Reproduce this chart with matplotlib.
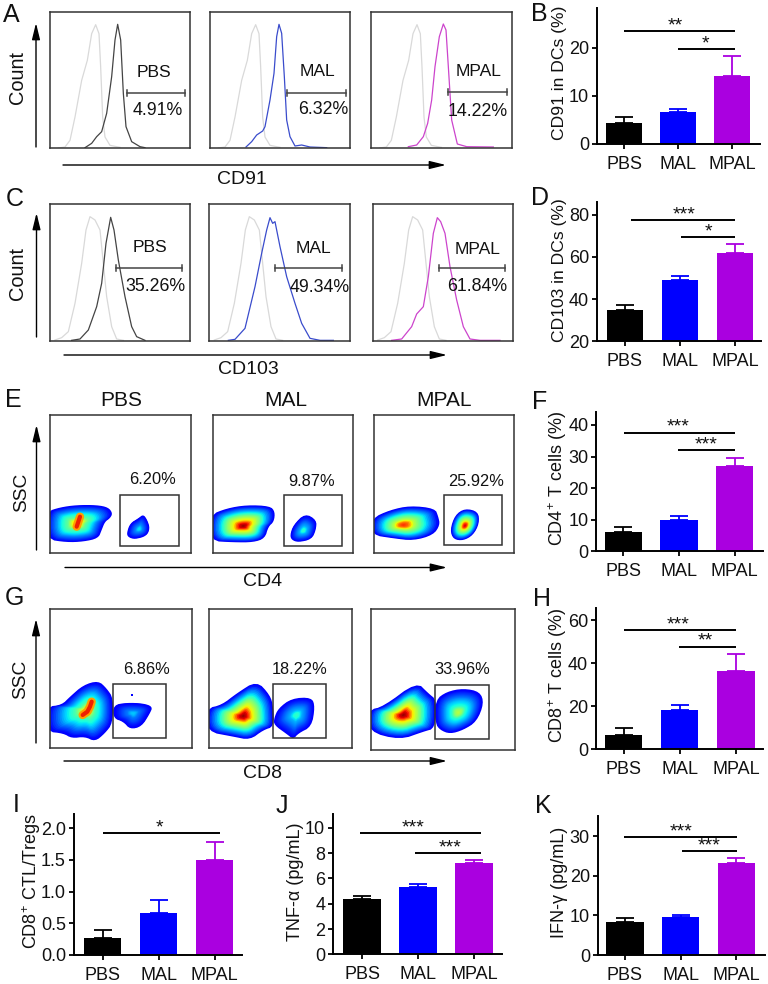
import matplotlib
matplotlib.use('Agg')
import matplotlib.pyplot as plt
import numpy as np
from matplotlib.patches import Rectangle

plt.rcParams['font.family'] = ['Liberation Sans', 'DejaVu Sans']
plt.rcParams['mathtext.default'] = 'regular'

W, H = 768.0, 984.0
groups = ['PBS', 'MAL', 'MPAL']
bar_colors = ['#000000', '#0000ff', '#aa00e0']
gray = '#d9d9d9'
line_colors = ['#444444', '#3a4ccc', '#cc44cc']

# bar panels, values
b_vals = [4.4, 6.7, 14.2]
b_errs = [1.2, 0.6, 4.0]
b_ticks = [0, 10, 20]
b_ticklabels = ['0', '10', '20']
b_brackets = [(0.0, 2.04, 23.5, 0.954, '**'), (1.0, 2.04, 19.7, 1.50, '*')]

d_vals = [35.0, 49.2, 61.8]
d_errs = [2.2, 1.8, 4.2]
d_ticks = [20, 40, 60, 80]
d_ticklabels = ['20', '40', '60', '80']
d_brackets = [(0.1, 2.0, 77.5, 1.07, '***'), (1.02, 2.0, 69.3, 1.515, '*')]

f_vals = [6.0, 9.9, 27.0]
f_errs = [1.6, 1.3, 2.6]
f_ticks = [0, 10, 20, 30, 40]
f_ticklabels = ['0', '10', '20', '30', '40']
f_brackets = [(0.01, 2.01, 37.6, 0.99, '***'), (0.99, 2.01, 32.1, 1.485, '***')]

h_vals = [6.6, 18.1, 36.4]
h_errs = [3.2, 2.5, 7.9]
h_ticks = [0, 20, 40, 60]
h_ticklabels = ['0', '20', '40', '60']
h_brackets = [(0.01, 2.0, 55.3, 0.976, '***'), (0.99, 2.0, 47.8, 1.463, '**')]

i_vals = [0.27, 0.66, 1.50]
i_errs = [0.12, 0.20, 0.29]
i_ticks = [0, 0.5, 1.0, 1.5, 2.0]
i_ticklabels = ['0.0', '0.5', '1.0', '1.5', '2.0']
i_brackets = [(0.01, 2.09, 1.93, 1.006, '*')]

j_vals = [4.35, 5.35, 7.2]
j_errs = [0.29, 0.25, 0.24]
j_ticks = [0, 2, 4, 6, 8, 10]
j_ticklabels = ['0', '2', '4', '6', '8', '10']
j_brackets = [(-0.04, 2.13, 9.6, 0.917, '***'), (0.95, 2.13, 8.02, 1.565, '***')]

k_vals = [8.3, 9.6, 23.2]
k_errs = [1.05, 0.4, 1.3]
k_ticks = [0, 10, 20, 30]
k_ticklabels = ['0', '10', '20', '30']
k_brackets = [(-0.01, 2.02, 29.8, 1.012, '***'), (1.02, 2.02, 26.2, 1.515, '***')]

# histograms: x, y in 1/3 pixel units from the lower left corner of each box
a_gray_x = [25, 45, 60, 75, 95, 112, 125, 137, 147, 152, 158, 165, 180, 210]
a_gray_y = [0, 3, 23, 93, 203, 263, 343, 370, 343, 243, 93, 33, 8, 2]
a_pbs_x = [105, 125, 140, 155, 170, 185, 195, 203, 212, 220, 228, 245, 270, 285]
a_pbs_y = [1, 14, 34, 49, 104, 214, 324, 371, 324, 164, 64, 19, 4, 1]
a_mal_x = [108, 125, 140, 158, 165, 180, 192, 200, 207, 215, 223, 230, 240, 255, 275, 300, 350]
a_mal_y = [3, 19, 39, 51, 64, 144, 224, 334, 371, 344, 214, 84, 34, 6, 9, 3, 1]
a_mpal_x = [111, 136, 156, 169, 181, 191, 204, 216, 224, 231, 241, 258, 286, 366]
a_mpal_y = [4, 9, 34, 74, 144, 244, 334, 372, 354, 244, 84, 12, 4, 3]

c_gray_x = [15, 35, 55, 75, 95, 108, 120, 135, 150, 158, 170, 185, 200, 220]
c_gray_y = [2, 9, 27, 112, 232, 332, 372, 362, 332, 252, 132, 42, 5, 1]
c_pbs_x = [65, 90, 115, 140, 155, 168, 182, 192, 205, 225, 245, 260, 285]
c_pbs_y = [1, 5, 32, 102, 172, 292, 370, 332, 242, 132, 42, 12, 1]
c_mal_x = [57, 77, 107, 137, 157, 172, 182, 190, 197, 212, 232, 257, 277, 302, 332, 372]
c_mal_y = [1, 4, 37, 162, 262, 332, 369, 352, 357, 282, 192, 112, 52, 7, 1, 1]
c_mpal_x = [57, 87, 117, 132, 152, 167, 182, 194, 204, 217, 232, 252, 272, 292, 322, 382]
c_mpal_y = [1, 5, 42, 80, 102, 192, 322, 369, 357, 322, 222, 122, 42, 5, 1, 1]

a_pct = ['4.91%', '6.32%', '14.22%']
c_pct = ['35.26%', '49.34%', '61.84%']
e_pct = ['6.20%', '9.87%', '25.92%']
g_pct = ['6.86%', '18.22%', '33.96%']

# flow plot outlines, 1/3 pixel units of the crops
e_pbs_main = [(140, 395), (180, 382), (230, 375), (290, 375), (325, 382), (338, 400), (330, 415), (315, 425), (305, 450), (295, 475), (250, 485), (200, 487), (140, 478)]
e_pbs_gate = [(380, 460), (390, 430), (415, 415), (430, 403), (442, 420), (450, 445), (440, 468), (405, 478), (385, 472)]
e_mal_main = [(630, 405), (680, 385), (740, 375), (810, 378), (825, 395), (822, 425), (805, 440), (795, 475), (760, 487), (700, 487), (630, 483)]
e_mal_gate = [(870, 465), (880, 435), (915, 400), (950, 420), (948, 450), (935, 478), (895, 487), (875, 480)]
e_mpal_main = [(1115, 415), (1170, 390), (1230, 377), (1305, 385), (1315, 410), (1320, 435), (1300, 465), (1240, 482), (1180, 475), (1115, 465)]
e_mpal_gate = [(1350, 450), (1365, 405), (1395, 385), (1435, 395), (1438, 430), (1420, 465), (1390, 482), (1360, 478)]

g_pbs_main = [(140, 350), (185, 345), (210, 320), (250, 285), (295, 272), (320, 295), (340, 325), (338, 400), (315, 430), (285, 455), (255, 440), (215, 445), (190, 430), (140, 425)]
g_pbs_gate = [(340, 345), (380, 338), (430, 340), (458, 350), (450, 370), (425, 410), (390, 418), (370, 395), (340, 385)]
g_mal_main = [(620, 355), (665, 345), (710, 310), (770, 272), (810, 315), (820, 350), (822, 410), (790, 420), (750, 450), (700, 440), (620, 425)]
g_mal_gate = [(822, 385), (835, 355), (875, 325), (935, 322), (945, 350), (935, 410), (895, 430), (880, 448), (860, 432), (822, 405)]
g_mpal_main = [(1105, 360), (1150, 350), (1250, 275), (1285, 310), (1310, 330), (1306, 415), (1270, 425), (1200, 450), (1105, 425)]
g_mpal_gate = [(1306, 330), (1340, 305), (1390, 295), (1440, 305), (1452, 340), (1430, 395), (1390, 420), (1350, 432), (1320, 420), (1306, 400)]

fig = plt.figure(figsize=(7.68, 9.84), dpi=100)
top = fig.add_axes([0, 0, 1, 1], zorder=10)
top.set_xlim(0, W)
top.set_ylim(H, 0)
top.axis('off')
top.patch.set_alpha(0)


def px_axes(x0, y0, x1, y1):
    return fig.add_axes([x0 / W, 1 - y1 / H, (x1 - x0) / W, (y1 - y0) / H])


def label(x, y, s, size=12.6, rot=0):
    top.text(x, y, s, fontsize=size, rotation=rot, ha='center', va='center', color='#111111')


def arrow(x0, y0, x1, y1):
    top.annotate('', xy=(x1, y1), xytext=(x0, y0),
                 arrowprops=dict(arrowstyle='-|>,head_length=0.9,head_width=0.22', color='black',
                                 lw=1.0, shrinkA=0, shrinkB=0, mutation_scale=11))


def box_spines(ax):
    ax.set_xticks([])
    ax.set_yticks([])
    for s in ax.spines.values():
        s.set_linewidth(1.1)
        s.set_color('#333333')


def hist_panel(box, gx, gy, x, y, color, gate, name, name_xy, pct, pct_xy):
    # box, gate etc are in crop units (3x)
    x0, y0, x1, y1, oy = box
    ax = px_axes(x0 / 3, oy + y0 / 3, x1 / 3, oy + y1 / 3)
    ax.set_xlim(0, x1 - x0)
    ax.set_ylim(0, y1 - y0)
    box_spines(ax)
    ax.plot(gx, gy, color=gray, lw=0.9)
    ax.plot(x, y, color=color, lw=0.9)
    ax.plot([gate[0], gate[1]], [gate[2], gate[2]], color='#444444', lw=1.1)
    for g in gate[:2]:
        ax.plot([g, g], [gate[2] - 9, gate[2] + 9], color='#444444', lw=1.1)
    ax.text(name_xy[0], name_xy[1], name, fontsize=12.6, ha='center', va='center', color='#111111', clip_on=False)
    ax.text(pct_xy[0], pct_xy[1], pct, fontsize=12.8, ha='center', va='center', color='#111111', clip_on=False)


def smooth(pts, n=2):
    for _ in range(n):
        new = []
        for i in range(len(pts)):
            a, b = pts[i], pts[(i + 1) % len(pts)]
            new.append((0.75 * a[0] + 0.25 * b[0], 0.75 * a[1] + 0.25 * b[1]))
            new.append((0.25 * a[0] + 0.75 * b[0], 0.25 * a[1] + 0.75 * b[1]))
        pts = new
    return pts


# how far up the colour scale each contour sits, by its size relative to the outline
contour_size = [0.0, 0.16, 0.32, 0.52, 0.75, 1.0]
contour_level = [1.0, 0.89, 0.6, 0.44, 0.21, 0.0]


def blob(ax, outline, cx, cy, peak, hot=None):
    pts = smooth(outline)
    for s in np.linspace(1, 0.04, 22):
        f = np.interp(s, contour_size, contour_level)
        c = plt.cm.jet(0.11 + (peak - 0.11) * f)
        ax.fill([cx + s * (p[0] - cx) for p in pts], [cy + s * (p[1] - cy) for p in pts], color=c, lw=0)
    if hot:
        ax.plot([h[0] for h in hot], [h[1] for h in hot], '-', color='#ffa000', lw=6, solid_capstyle='round')
        ax.plot([h[0] for h in hot], [h[1] for h in hot], '-', color='#ee2000', lw=3, solid_capstyle='round')


def flow_panel(box, oy, gate, pct, pct_xy, blobs):
    x0, y0, x1, y1 = box
    ax = px_axes(x0 / 3, oy + y0 / 3, x1 / 3, oy + y1 / 3)
    ax.set_xlim(x0, x1)
    ax.set_ylim(y1, y0)
    box_spines(ax)
    for b in blobs:
        blob(ax, *b)
    ax.add_patch(Rectangle((gate[0], gate[1]), gate[2] - gate[0], gate[3] - gate[1], fill=False,
                           ec='#333333', lw=1.1, zorder=5))
    label(pct_xy[0] / 3, oy + pct_xy[1] / 3, pct, size=11.8)
    return ax


def bar_panel(ox, oy, left, right, ytop, bottom, c0, step, width, ymin, ymax, vals, errs, ticks, ticklabels, brackets):
    ax = px_axes(ox + left / 3, oy + ytop / 3, ox + right / 3, oy + bottom / 3)
    xs = [0, 1, 2]
    ax.bar(xs, vals, width=width, color=bar_colors, zorder=2)
    for x, v, e, c in zip(xs, vals, errs, bar_colors):
        ax.errorbar([x], [v], yerr=[[0], [e]], ecolor=c, elinewidth=1.3, capsize=6.3, capthick=1.3, fmt='none', zorder=1)
    ax.set_xlim((left - c0) / step, (right - c0) / step)
    ax.set_ylim(ymin, ymax)
    ax.set_xticks(xs)
    ax.set_xticklabels(groups)
    ax.set_yticks(ticks)
    ax.set_yticklabels(ticklabels)
    ax.tick_params(axis='x', length=3.6, width=1.3, pad=5, labelsize=13, labelcolor='#111111')
    ax.tick_params(axis='y', length=3.6, width=1.3, pad=2, labelsize=13, labelcolor='#111111')
    for s in ['top', 'right']:
        ax.spines[s].set_visible(False)
    for s in ['left', 'bottom']:
        ax.spines[s].set_linewidth(1.4)
    for b in brackets:
        ax.plot([b[0], b[1]], [b[2], b[2]], color='black', lw=1.4, clip_on=False, solid_capstyle='butt')
        ax.annotate(b[4], (b[3], b[2]), xytext=(0, 0.5), textcoords='offset points', ha='center', va='baseline',
                    fontsize=14, color='#111111', annotation_clip=False)
    return ax


# panel A
a_boxes = [(150, 35, 571, 444, 0), (630, 35, 1051, 444, 0), (1114, 35, 1535, 444, 0)]
a_gates = [(230, 406, 166), (230, 408, 166), (230, 407, 167)]
a_names = [(313, 227), (322, 229), (322, 229)]
a_pcts = [(322, 113), (340, 116), (319, 111)]
a_lines = [(a_pbs_x, a_pbs_y), (a_mal_x, a_mal_y), (a_mpal_x, a_mpal_y)]
for i in range(3):
    hist_panel(a_boxes[i], a_gray_x, a_gray_y, a_lines[i][0], a_lines[i][1], line_colors[i], a_gates[i],
               groups[i], a_names[i], a_pct[i], a_pcts[i])

# panel C
c_boxes = [(150, 42, 571, 452, 190), (628, 42, 1049, 452, 190), (1118, 42, 1539, 452, 190)]
c_gates = [(197, 396, 219), (198, 397, 218), (198, 397, 218)]
c_names = [(300, 280), (313, 277), (315, 274)]
c_pcts = [(315, 162), (332, 160), (315, 162)]
c_lines = [(c_pbs_x, c_pbs_y), (c_mal_x, c_mal_y), (c_mpal_x, c_mpal_y)]
for i in range(3):
    hist_panel(c_boxes[i], c_gray_x, c_gray_y, c_lines[i][0], c_lines[i][1], line_colors[i], c_gates[i],
               groups[i], c_names[i], c_pct[i], c_pcts[i])

# panel E
flow_panel((151, 104, 572, 520), 380, (361, 345, 537, 499), e_pct[0], (458, 300),
           [(e_pbs_main, 232, 430, 0.72, [(240, 410), (230, 440)]), (e_pbs_gate, 418, 447, 0.36)])
flow_panel((640, 104, 1060, 520), 380, (851, 344, 1025, 497), e_pct[1], (935, 305),
           [(e_mal_main, 730, 438, 1.0), (e_mal_gate, 910, 452, 0.42)])
flow_panel((1123, 104, 1541, 518), 380, (1332, 344, 1506, 496), e_pct[2], (1427, 306),
           [(e_mpal_main, 1210, 435, 0.88), (e_mpal_gate, 1395, 437, 0.95)])

# panel G
ax_g = flow_panel((149, 57, 575, 474), 590, (339, 283, 498, 444), g_pct[0], (438, 239),
                  [(g_pbs_main, 262, 358, 0.66, [(275, 335), (270, 350), (262, 365), (248, 375)]), (g_pbs_gate, 400, 370, 0.33)])
ax_g.plot([397], [315], 's', color='#0000ff', ms=1.5, mew=0)
flow_panel((628, 56, 1055, 474), 590, (819, 283, 978, 444), g_pct[1], (898, 239),
           [(g_mal_main, 730, 378, 1.0), (g_mal_gate, 890, 375, 0.42)])
flow_panel((1114, 58, 1544, 479), 590, (1306, 286, 1467, 448), g_pct[2], (1388, 239),
           [(g_mpal_main, 1210, 375, 1.0), (g_mpal_gate, 1375, 368, 0.58)])

# group labels over panel E
label(365 / 3, 380 + 62 / 3, groups[0], size=15)
label(858 / 3, 380 + 62 / 3, groups[1], size=15)
label(1332 / 3, 380 + 62 / 3, groups[2], size=15)

# arrows and axis names
arrow(36, 147, 36, 23)
label(17, 77, 'Count', size=14.4, rot=90)
arrow(63, 165, 446, 165)
label(242, 180, 'CD91', size=14)

arrow(36.5, 337, 36.5, 213)
label(17, 273, 'Count', size=14.4, rot=90)
arrow(64, 355, 447, 355)
label(248, 369, 'CD103', size=14)

arrow(36.5, 550, 36.5, 425)
label(22, 492, 'SSC', size=13.8, rot=90)
arrow(65, 567.5, 447, 567.5)
label(263, 581, 'CD4', size=14)

arrow(36, 743, 36, 619)
label(21, 679, 'SSC', size=13.8, rot=90)
arrow(64, 761, 447, 761)
label(263, 774, 'CD8', size=14)

# bar panels
bar_panel(520, 0, 231, 720, 25, 432, 312, 162.5, 0.665, 0, 28.2, b_vals, b_errs, b_ticks, b_ticklabels, b_brackets)
bar_panel(520, 0, 231, 722, 607, 1024, 315, 165, 0.665, 20, 85.9, d_vals, d_errs, d_ticks, d_ticklabels, d_brackets)
bar_panel(520, 390, 229, 730, 65, 484, 310, 167, 0.665, 0, 44.2, f_vals, f_errs, f_ticks, f_ticklabels, f_brackets)
bar_panel(520, 390, 228, 730, 655, 1078, 310.5, 168.5, 0.665, 0, 65.6, h_vals, h_errs, h_ticks, h_ticklabels, h_brackets)
bar_panel(0, 790, 221, 727, 72, 494, 308, 168, 0.655, 0, 2.227, i_vals, i_errs, i_ticks, i_ticklabels, i_brackets)
bar_panel(260, 790, 219, 727, 72, 493, 306, 168, 0.665, 0, 11.1, j_vals, j_errs, j_ticks, j_ticklabels, j_brackets)
bar_panel(520, 790, 233, 735, 78, 495, 315, 167, 0.665, 0, 35.1, k_vals, k_errs, k_ticks, k_ticklabels, k_brackets)

label(520 + 118 / 3, 73, 'CD91 in DCs (%)', rot=90)
label(520 + 118 / 3, 270, 'CD103 in DCs (%)', rot=90)
label(520 + 113 / 3, 390 + 267 / 3, 'CD4$^{+}$ T cells (%)', rot=90, size=13)
label(520 + 113 / 3, 390 + 858 / 3, 'CD8$^{+}$ T cells (%)', rot=90, size=13)
label(95 / 3, 790 + 275 / 3, 'CD8$^{+}$ CTL/Tregs', rot=90, size=13)
label(260 + 107 / 3, 790 + 276 / 3, 'TNF-α (pg/mL)', rot=90, size=13)
label(520 + 118 / 3, 790 + 278 / 3, 'IFN-γ (pg/mL)', rot=90, size=13)

# panel letters
for s, x, y in [('A', 11, 15), ('B', 539, 14), ('C', 15, 199), ('D', 540, 198), ('E', 13, 400), ('F', 540, 402),
                ('G', 14, 598), ('H', 542, 599), ('I', 16, 805), ('J', 282, 806), ('K', 543, 806)]:
    label(x, y, s, size=18)

fig.savefig('out.png', dpi=100)
